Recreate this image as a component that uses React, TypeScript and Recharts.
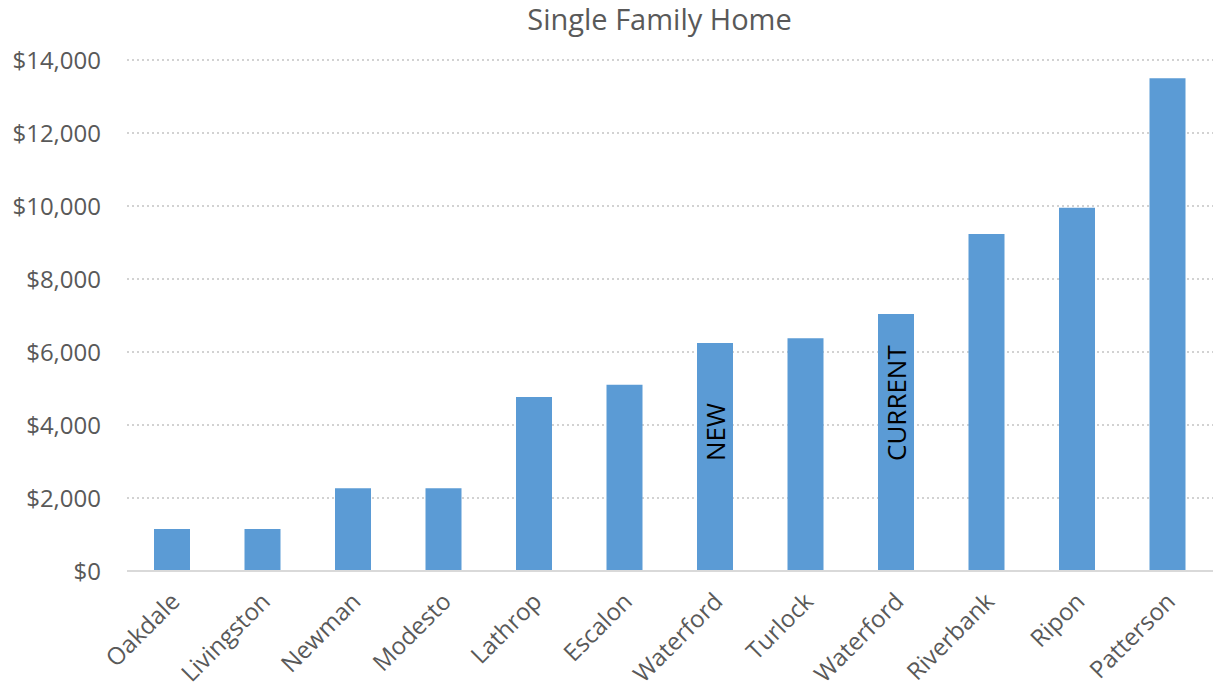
import { BarChart, Bar, XAxis, YAxis, CartesianGrid, LabelList } from 'recharts'

const CITIES = [
  'Oakdale', 'Livingston', 'Newman', 'Modesto', 'Lathrop', 'Escalon',
  'Waterford', 'Turlock', 'Waterford', 'Riverbank', 'Ripon', 'Patterson',
]
const FEES = [1150, 1150, 2270, 2270, 4770, 5100, 6250, 6380, 7040, 9230, 9950, 13500]
const NOTES = ['', '', '', '', '', '', 'NEW', '', 'CURRENT', '', '', '']
const Y_TICKS = [0, 2000, 4000, 6000, 8000, 10000, 12000, 14000]

const FONT = '"Open Sans", "Noto Sans", sans-serif'
const GREY = '#595959'

const data = CITIES.map((city, i) => ({ id: i, city, fee: FEES[i], note: NOTES[i] }))

function CityTick({ x, y, payload }: any) {
  const label = CITIES[payload.value]
  return (
    <text
      x={x + 9}
      y={y + 24}
      transform={`rotate(-45, ${x + 9}, ${y + 24})`}
      textAnchor="end"
      fill={GREY}
      fontSize={24}
      fontFamily={FONT}
    >
      {label}
    </text>
  )
}

function NoteLabel({ x, y, width, height, value }: any) {
  if (!value) return null
  const cx = x + width / 2
  const base = y + height - 110
  return (
    <text
      x={cx}
      y={base}
      transform={`rotate(-90, ${cx}, ${base})`}
      textAnchor="start"
      dominantBaseline="central"
      fill="#000"
      fontSize={26}
      fontFamily={FONT}
    >
      {value}
    </text>
  )
}

export default function App() {
  return (
    <div style={{ position: 'absolute', left: 0, top: 0, width: 1213, height: 696, background: '#fff' }}>
      <div
        style={{
          position: 'absolute', left: 0, width: 1213, top: -1, paddingLeft: 106,
          boxSizing: 'border-box', textAlign: 'center', fontFamily: FONT, fontSize: 29, color: GREY,
        }}
      >
        Single Family Home
      </div>
      <BarChart
        width={1213}
        height={696}
        data={data}
        margin={{ top: 60, right: 0, left: 0, bottom: 0 }}
      >
        <CartesianGrid vertical={false} stroke="#c4c4c4" strokeWidth={1.5} strokeDasharray="2 3" />
        <XAxis
          dataKey="id"
          height={125}
          tick={<CityTick />}
          tickLine={false}
          axisLine={{ stroke: '#d9d9d9', strokeWidth: 2 }}
          interval={0}
        />
        <YAxis
          width={127}
          domain={[0, 14000]}
          ticks={Y_TICKS}
          axisLine={false}
          tickLine={false}
          tickSize={0}
          tickMargin={26}
          tick={{ fill: GREY, fontSize: 24, fontFamily: FONT }}
          tickFormatter={(v: number) => `$${v.toLocaleString('en-US')}`}
        />
        <Bar dataKey="fee" fill="#5b9bd5" barSize={36} isAnimationActive={false}>
          <LabelList dataKey="note" content={<NoteLabel />} />
        </Bar>
      </BarChart>
    </div>
  )
}
